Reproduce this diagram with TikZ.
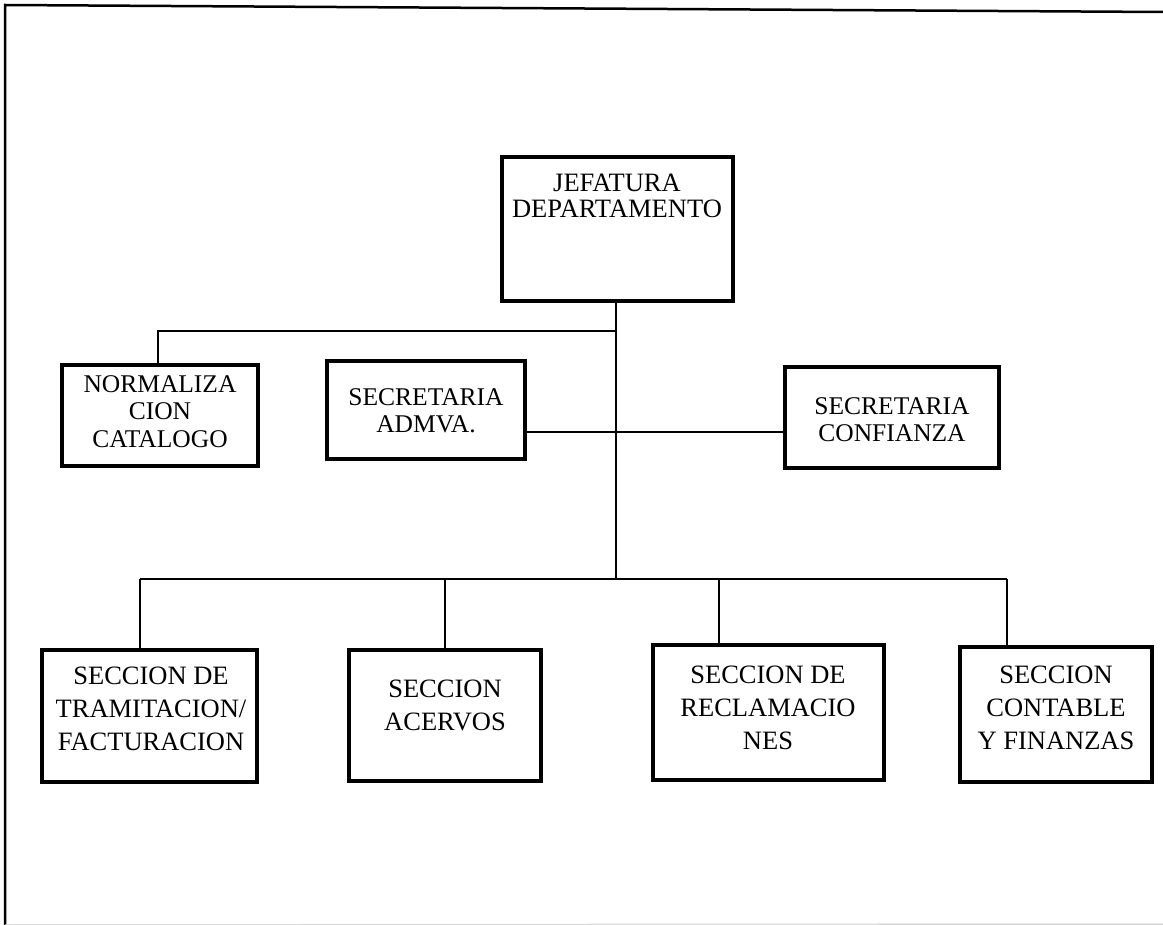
\documentclass[tikz,border=0pt]{standalone}
\usepackage{fontspec}
\setmainfont{Liberation Serif}
\begin{document}
\begin{tikzpicture}[x=1pt,y=-1pt,
  orgbox/.style={draw=black, line width=4.5pt, fill=white, inner sep=0pt, rectangle},
  lbl/.style={anchor=north, inner sep=0pt, align=center, font=\fontsize{25.5}{27.5}\selectfont},
  lblbig/.style={lbl, font=\fontsize{26.5}{33}\selectfont},
  conn/.style={draw=black, line width=2pt},
  frame/.style={draw=black, line width=2.5pt}]
\useasboundingbox (0,0) rectangle (1163,925);
% frame
\coordinate (ftl) at (5,5);
\coordinate (ftr) at (1163,12);
\coordinate (fbl) at (5,925);
\coordinate (fbr) at (1163,924);
\draw[frame] (ftr) -- (ftl) -- (fbl);
\draw[draw=black!15, line width=1.5pt] (fbl) -- (fbr);
% boxes
\newcommand{\obox}[5]{\node[orgbox, minimum width=#4-#2, minimum height=#5-#3] (#1) at ({(#2+#4)/2},{(#3+#5)/2}) {};}
\obox{jef}{502}{157}{733}{301}
\obox{norm}{62}{365}{258}{466}
\obox{adm}{327}{361}{525}{459}
\obox{conf}{785}{367}{999}{468}
\obox{bone}{42}{650}{257}{782}
\obox{btwo}{349}{650}{541}{781}
\obox{bthree}{653}{645}{884}{780}
\obox{bfour}{960}{647}{1152}{782}
% labels
\node[lbl, font=\fontsize{26.5}{25.5}\selectfont] (tjef) at (617,174) {JEFATURA\\DEPARTAMENTO};
\node[lbl] (tnorm) at (160,375) {NORMALIZA\\CION\\CATALOGO};
\node[lbl] (tadm) at (426,388) {SECRETARIA\\ADMVA.};
\node[lbl] (tconf) at (892,397) {SECRETARIA\\CONFIANZA};
\node[lblbig] (tone) at (151,667) {SECCION DE\\TRAMITACION/\\FACTURACION};
\node[lblbig] (ttwo) at (445,680) {SECCION\\ACERVOS};
\node[lblbig] (tthree) at (768,666) {SECCION DE\\RECLAMACIO\\NES};
\node[lblbig] (tfour) at (1056,666) {SECCION\\CONTABLE\\Y FINANZAS};
% connectors
\coordinate (upbus) at (616,331);
\coordinate (lowbus) at (616,579);
\coordinate (nx) at (158,331);
\coordinate (x1) at (140,579);
\coordinate (x2) at (445,579);
\coordinate (x3) at (719,579);
\coordinate (x4) at (1007,579);
\draw[conn] (jef.south -| upbus) -- (lowbus);
\draw[conn] (upbus) -- (nx) -- (nx |- norm.north);
\draw[conn] (adm.east |- 0,432) -- (conf.west |- 0,432);
\draw[conn] (x1) -- (x4);
\draw[conn] (x1) -- (x1 |- bone.north);
\draw[conn] (x2) -- (x2 |- btwo.north);
\draw[conn] (x3) -- (x3 |- bthree.north);
\draw[conn] (x4) -- (x4 |- bfour.north);
\end{tikzpicture}
\end{document}
